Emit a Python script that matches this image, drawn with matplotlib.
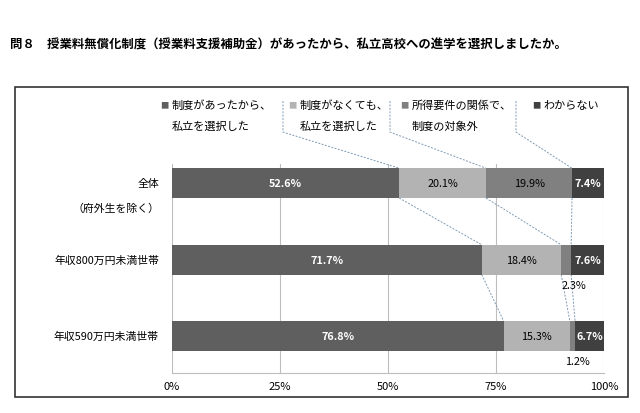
import matplotlib.pyplot as plt
import numpy as np
from matplotlib.patches import Rectangle

plt.rcParams['font.family'] = ['Noto Sans CJK JP', 'DejaVu Sans']

# データ
categories = ['全体', '年収800万円未満世帯', '年収590万円未満世帯']
series_names = ['制度があったから、\n私立を選択した', '制度がなくても、\n私立を選択した',
                '所得要件の関係で、\n制度の対象外', 'わからない']
values = [
    [52.6, 20.1, 19.9, 7.4],
    [71.7, 18.4, 2.3, 7.6],
    [76.8, 15.3, 1.2, 6.7],
]
colors = ['#5f5f5f', '#b3b3b3', '#808080', '#404040']
text_colors = ['white', 'black', 'black', 'white']

W, H = 640, 414
fig = plt.figure(figsize=(6.4, 4.14), dpi=100)

def fx(px):
    return px / W

def fy(py):
    return 1 - py / H

# 外枠
fig.patches.append(Rectangle((fx(15), fy(398)), fx(628) - fx(15), fy(88) - fy(398),
                             transform=fig.transFigure, fill=False, edgecolor='#333333', lw=1.2))

# タイトル
fig.text(fx(10), fy(45), '問８　授業料無償化制度（授業料支援補助金）があったから、私立高校への進学を選択しましたか。',
         fontsize=8.9, fontweight='bold', va='center', ha='left')

ax = fig.add_axes([fx(172), fy(374), fx(604) - fx(172), fy(165) - fy(374)])

h = 0.39
vals = np.array(values)
left = np.zeros(len(categories))
for j in range(vals.shape[1]):
    ax.barh(range(len(categories)), vals[:, j], left=left, height=h, color=colors[j], zorder=3)
    for i in range(len(categories)):
        v = vals[i, j]
        cx = left[i] + v / 2
        if v < 3:
            # 小さい値は棒の下に表示
            ax.text(left[i] + v + 0.6, i + h / 2 + 0.13, f'{v:.1f}%', ha='center', va='center',
                    fontsize=7.8, color='black')
        else:
            ax.text(cx, i, f'{v:.1f}%', ha='center', va='center', fontsize=7.8,
                    color=text_colors[j], fontweight='bold' if text_colors[j] == 'white' else 'normal', zorder=4)
    left = left + vals[:, j]

ax.set_xlim(0, 100)
ax.set_ylim(2.48, -0.25)
ax.set_xticks([0, 25, 50, 75, 100])
ax.set_xticklabels(['0%', '25%', '50%', '75%', '100%'], fontsize=8)
ax.set_yticks([])
ax.tick_params(axis='x', length=0, pad=6)
ax.grid(axis='x', color='#bdbdbd', lw=0.8, zorder=0)
for s in ['top', 'right', 'left']:
    ax.spines[s].set_visible(False)
ax.spines['bottom'].set_color('#bdbdbd')

# カテゴリラベル
for i, c in enumerate(categories):
    ax.text(-3, i, c, ha='right', va='center', fontsize=7.8)
ax.text(-3, 0.32, '（府外生を除く）', ha='right', va='center', fontsize=7.8)

# 区分線（棒の間）
cum = np.cumsum(vals, axis=1)
line_color = '#7f9ab5'
for i in range(len(categories) - 1):
    for k in range(3):
        ax.plot([cum[i, k], cum[i + 1, k]], [i + h / 2, i + 1 - h / 2], ls=(0, (2, 1.5)),
                color=line_color, lw=0.7, zorder=2)

# 凡例
sq_x = [164, 292, 404, 536]
for j, name in enumerate(series_names):
    lines = name.split('\n')
    fig.text(fx(sq_x[j]), fy(105.5), '■', color=colors[j], fontsize=6, ha='center', va='center')
    fig.text(fx(sq_x[j] + 7.5), fy(105.5), lines[0], fontsize=8, ha='left', va='center')
    if len(lines) > 1:
        fig.text(fx(sq_x[j] + 7.5), fy(126.5), lines[1], fontsize=8, ha='left', va='center')

# 凡例から棒への線
leg_x = [283, 390, 516]
for k, px in enumerate(leg_x):
    x0 = (px - 172) / 432 * 100
    y0 = (102 - 184) / 76.5
    y1 = (133 - 184) / 76.5
    ax.plot([x0, x0, cum[0, k]], [y0, y1, -h / 2], ls=(0, (2, 1.5)), color=line_color,
            lw=0.7, clip_on=False, zorder=2)

plt.savefig('out.png', dpi=100)
